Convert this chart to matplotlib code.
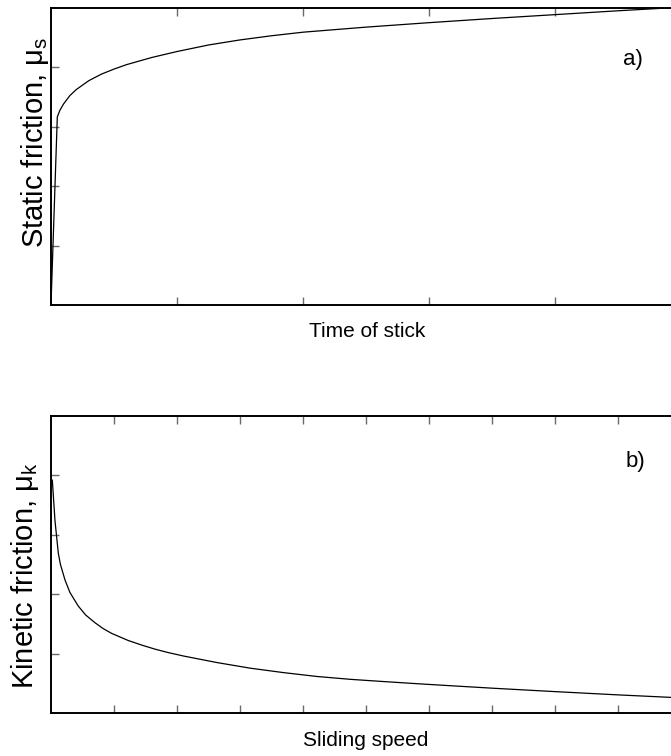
import matplotlib
matplotlib.use("Agg")
import matplotlib.pyplot as plt

plt.rcParams['font.family'] = ['Liberation Sans', 'DejaVu Sans']
plt.rcParams['mathtext.default'] = 'regular'

# Panel a: static friction vs time of stick
time_stick = [0, 0.05, 0.07, 0.1, 0.15, 0.2, 0.3, 0.4, 0.5, 0.6, 0.8, 1.0,
              1.25, 1.5, 1.75, 2.0, 2.5, 3.0, 3.5, 4.0, 4.5, 5.0]
mu_static = [0, 3.16, 3.27, 3.38, 3.52, 3.62, 3.77, 3.88, 3.965, 4.04, 4.16, 4.26,
             4.37, 4.455, 4.525, 4.585, 4.67, 4.745, 4.815, 4.88, 4.945, 5.005]

# Panel b: kinetic friction vs sliding speed
sliding_speed = [0.021, 0.063, 0.116, 0.15, 0.222, 0.3, 0.433, 0.55, 0.698, 0.83,
                 0.963, 1.227, 1.45, 1.651, 1.85, 2.1, 2.63, 3.16, 3.69, 4.22,
                 4.75, 5.27, 5.86, 6.33, 7.0, 8.0, 9.0, 10.0]
mu_kinetic = [3.92, 3.24, 2.69, 2.50, 2.24, 2.03, 1.80, 1.65, 1.52, 1.42,
              1.34, 1.22, 1.14, 1.075, 1.02, 0.96, 0.85, 0.755, 0.68, 0.615,
              0.567, 0.53, 0.49, 0.46, 0.418, 0.36, 0.305, 0.255]

W, H = 671, 756
fig = plt.figure(figsize=(W / 100, H / 100), dpi=100)


def style(ax, xmax, xticks, yticks):
    ax.set_xlim(0, xmax)
    ax.set_ylim(0, 5)
    ax.set_xticks(xticks)
    ax.set_yticks(yticks)
    ax.set_xticklabels([])
    ax.set_yticklabels([])
    ax.tick_params(direction='in', length=5.5, width=1.0, color='#6a6a6a',
                   top=True, right=True)
    for s in ax.spines.values():
        s.set_linewidth(1.4)
        s.set_color('black')


# panel a
axa = fig.add_axes([51 / W, (H - 305) / H, 630 / W, 297.5 / H])
axa.plot(time_stick, mu_static, color='black', lw=0.9)
style(axa, 5, [1, 2, 3, 4], [1, 2, 3, 4])
axa.text((35 - 51) / 630, (305 - 142) / 297.5, 'Static friction, μ$_s$',
         rotation=90, ha='center', va='center', fontsize=21,
         transform=axa.transAxes)
fig.text(367 / W, 1 - 332 / H, 'Time of stick', ha='center', va='center',
         fontsize=15)
fig.text(633 / W, 1 - 59 / H, 'a)', ha='center', va='center', fontsize=16)

# panel b
axb = fig.add_axes([51 / W, (H - 713) / H, 630 / W, 297 / H])
axb.plot(sliding_speed, mu_kinetic, color='black', lw=0.9)
style(axb, 10, list(range(1, 10)), [1, 2, 3, 4])
axb.text((25 - 51) / 630, (713 - 576) / 297, 'Kinetic friction, μ$_k$',
         rotation=90, ha='center', va='center', fontsize=21,
         transform=axb.transAxes)
fig.text(366 / W, 1 - 740 / H, 'Sliding speed', ha='center', va='center',
         fontsize=15)
fig.text(635 / W, 1 - 461 / H, 'b)', ha='center', va='center', fontsize=16)

fig.savefig('out.png', dpi=100)
